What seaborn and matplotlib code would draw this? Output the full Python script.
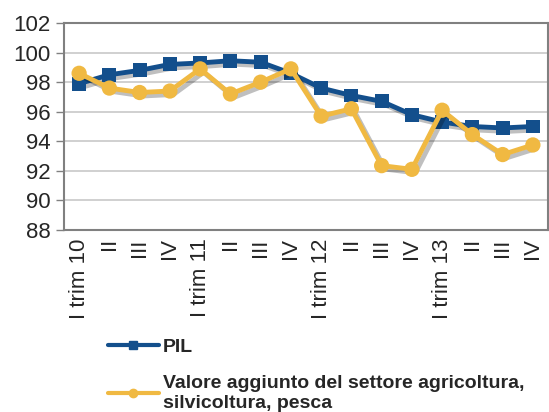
import matplotlib
matplotlib.use("Agg")
import matplotlib.pyplot as plt
import matplotlib.patheffects as pe
from matplotlib.lines import Line2D
import numpy as np
import pandas as pd
import seaborn as sns

# quarters and labels
quarters = ["I trim 10", "II", "III", "IV", "I trim 11", "II", "III", "IV",
            "I trim 12", "II", "III", "IV", "I trim 13", "II", "III", "IV"]
pil = [97.9, 98.5, 98.8, 99.2, 99.3, 99.45, 99.35, 98.6,
       97.6, 97.1, 96.7, 95.8, 95.3, 95.0, 94.9, 95.0]
agri = [98.6, 97.6, 97.3, 97.4, 98.9, 97.2, 98.0, 98.9,
        95.7, 96.2, 92.35, 92.1, 96.1, 94.45, 93.1, 93.75]
label_pil = "PIL"
label_agri = "Valore aggiunto del settore agricoltura,\nsilvicoltura, pesca"
blue = "#134F8C"
gold = "#F0B942"

df = pd.DataFrame({"pos": np.arange(len(quarters)), "pil": pil, "agri": agri})

sns.set_theme(style="white")
plt.rcParams["font.family"] = ["Liberation Sans", "DejaVu Sans"]

fig = plt.figure(figsize=(5.49, 4.12), dpi=100)
ax = fig.add_axes([0.1166, 0.442, 0.8816, 0.502])

shadow = [pe.SimpleLineShadow(offset=(2.5, -2.5), alpha=0.25, shadow_color="black"), pe.Normal()]

sns.lineplot(data=df, x="pos", y="pil", ax=ax, color=blue, linewidth=3.5,
             marker="s", markeredgewidth=0, path_effects=shadow, zorder=3)
sns.lineplot(data=df, x="pos", y="agri", ax=ax, color=gold, linewidth=3.5,
             marker="o", markeredgewidth=0, path_effects=shadow, zorder=4)
ax.lines[0].set_markersize(10)
ax.lines[1].set_markersize(11)

ax.set_xlim(-0.5, len(quarters) - 0.5)
ax.set_ylim(88, 102)
ax.set_yticks(range(88, 103, 2))
ax.set_xticks(df["pos"])
ax.set_xticklabels(quarters, rotation=90, fontsize=16)
ax.set_xticks(np.arange(-0.5, len(quarters)), minor=True)
ax.tick_params(axis="x", which="major", length=0, pad=6)
ax.tick_params(axis="x", which="minor", length=6, width=1, color="#808080", direction="out")
ax.tick_params(axis="y", labelsize=16, length=6, width=1, color="#808080", direction="out", left=True)
ax.set_xlabel("")
ax.set_ylabel("")
ax.grid(axis="y", color="#C8C8C8", linewidth=1.2)
ax.set_axisbelow(True)
for s in ax.spines.values():
    s.set_color("#808080")
    s.set_linewidth(1.5)

handles = [Line2D([], [], color=blue, linewidth=3, marker="s", markersize=6),
           Line2D([], [], color=gold, linewidth=3, marker="o", markersize=6)]
ax.legend(handles, [label_pil, label_agri], loc="upper left", bbox_to_anchor=(0.165, 0.222),
          bbox_transform=fig.transFigure, frameon=False, handlelength=2.6,
          handletextpad=0.2, labelspacing=1.0,
          prop={"weight": "bold", "size": 14})

fig.savefig("out.png", dpi=100)
